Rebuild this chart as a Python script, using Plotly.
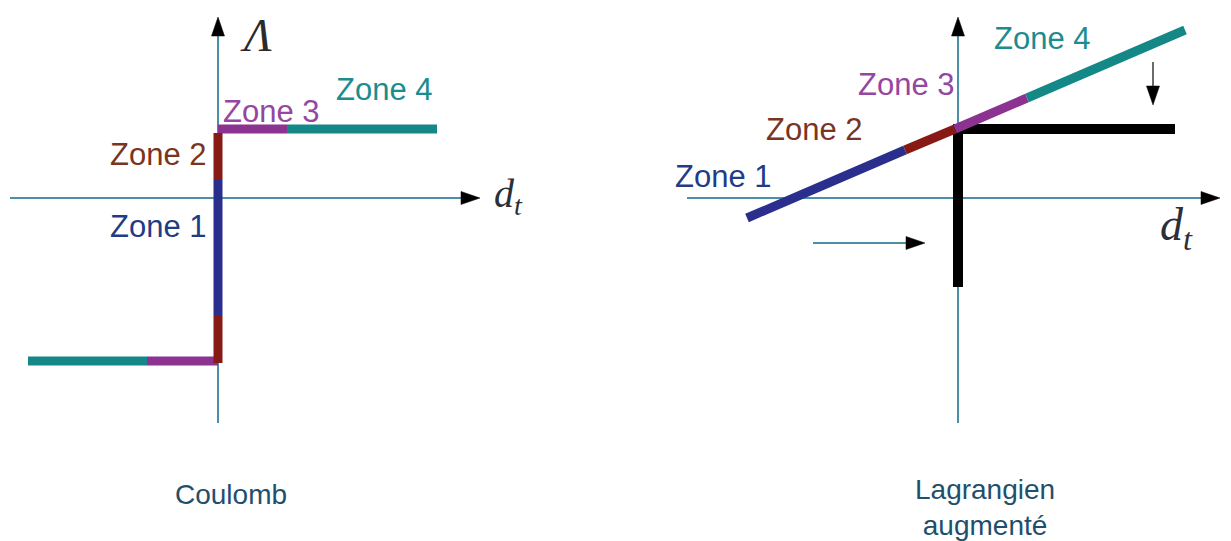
import math
import plotly.graph_objects as go

# ---------------- data (diagram units, origin at each panel's axes crossing) -------------
zone_names = ["Zone 1", "Zone 2", "Zone 3", "Zone 4"]

# Left panel: Coulomb law (multi-valued graph)
coulomb_z1_x = [0.0, 0.0]
coulomb_z1_y = [-11.7, 1.8]
coulomb_z2_x = [0.0, 0.0, None, 0.0, 0.0]
coulomb_z2_y = [-16.5, -11.7, None, 1.8, 6.5]
coulomb_z3_x = [-7.1, 0.0, None, 0.0, 6.9]
coulomb_z3_y = [-16.3, -16.3, None, 6.9, 6.9]
coulomb_z4_x = [-19.0, -7.1, None, 6.9, 21.9]
coulomb_z4_y = [-16.3, -16.3, None, 6.9, 6.9]

# Right panel: augmented Lagrangian (breakpoints of the straight line, one zone per piece)
lagr_x = [-21.1, -5.3, -0.3, 6.9, 22.7]
lagr_y = [-2.0, 4.8, 6.9, 10.0, 16.8]
# Threshold (black) graph
thresh_x = [0.0, 0.0, 21.7]
thresh_y = [-8.9, 6.9, 6.9]

# Axes extents [x0, y0, x_tip, y_tip]
left_axes = [[-20.8, 0.0, 26.2, 0.0], [0.0, -22.5, 0.0, 18.1]]
right_axes = [[-27.1, 0.0, 26.2, 0.0], [0.0, -22.5, 0.0, 18.1]]
# Small motion arrows of the right panel
right_arrows = [[19.5, 13.6, 19.5, 9.3], [-14.5, -4.5, -3.3, -4.5]]

# Label positions
left_zone_pos = [(-6.0, -2.8), (-6.0, 4.4), (5.3, 8.7), (16.6, 10.9)]
right_zone_pos = [(-23.5, 2.2), (-14.4, 6.9), (-5.2, 11.4), (8.4, 16.0)]

# ---------------- styles ----------------
line_colors = ["#2a2e8c", "#871a15", "#8c3291", "#148787"]
text_colors = ["#1f3c86", "#7a3522", "#9446a0", "#1c8c90"]
axis_color = "#4b8fa8"
thick = 9
sans = "Liberation Sans, Arial, sans-serif"
serif = "Liberation Serif, DejaVu Serif, serif"

fig = go.Figure()


def add_line(xs, ys, color, width, xref="x"):
    fig.add_trace(go.Scatter(x=xs, y=ys, mode="lines", xaxis=xref, yaxis="y",
                             line=dict(color=color, width=width),
                             hoverinfo="skip", showlegend=False))


def add_arrow(a, line_color, xref, head_len=1.9, head_w=1.3, width=2):
    x0, y0, x1, y1 = a
    d = math.hypot(x1 - x0, y1 - y0)
    ux, uy = (x1 - x0) / d, (y1 - y0) / d
    bx, by = x1 - ux * head_len, y1 - uy * head_len
    add_line([x0, bx], [y0, by], line_color, width, xref)
    px, py = -uy * head_w / 2, ux * head_w / 2
    fig.add_trace(go.Scatter(x=[x1, bx + px, bx - px, x1], y=[y1, by + py, by - py, y1],
                             mode="lines", fill="toself", fillcolor="#000000",
                             line=dict(color="#000000", width=0.5), xaxis=xref, yaxis="y",
                             hoverinfo="skip", showlegend=False))


# axes
for a in left_axes:
    add_arrow(a, axis_color, "x")
for a in right_axes:
    add_arrow(a, axis_color, "x2")
add_arrow(right_arrows[0], "#3a3a3a", "x2", width=1.5)
add_arrow(right_arrows[1], axis_color, "x2", width=2)

# left panel zones
for xs, ys, c in [(coulomb_z4_x, coulomb_z4_y, line_colors[3]),
                  (coulomb_z3_x, coulomb_z3_y, line_colors[2]),
                  (coulomb_z1_x, coulomb_z1_y, line_colors[0]),
                  (coulomb_z2_x, coulomb_z2_y, line_colors[1])]:
    add_line(xs, ys, c, thick, "x")

# right panel
add_line(thresh_x, thresh_y, "#000000", 10, "x2")
for i in range(4):
    add_line(lagr_x[i:i + 2], lagr_y[i:i + 2], line_colors[i], thick, "x2")

ann = []
for i, name in enumerate(zone_names):
    for (px, py), xr in [(left_zone_pos[i], "x"), (right_zone_pos[i], "x2")]:
        ann.append(dict(x=px, y=py, xref=xr, yref="y", text=name, showarrow=False,
                        xanchor="center", yanchor="middle",
                        font=dict(family=sans, size=31, color=text_colors[i])))

ann.append(dict(x=3.8, y=16.3, xref="x", yref="y", text="<i>Λ</i>", showarrow=False,
                xanchor="center", yanchor="middle", font=dict(family=serif, size=46, color="#2b2b2b")))
ann.append(dict(x=29.0, y=0.2, xref="x", yref="y", text="<i>d</i><sub><i>t</i></sub>",
                showarrow=False, xanchor="center", yanchor="middle",
                font=dict(family=serif, size=40, color="#2b3038")))
ann.append(dict(x=21.8, y=-3.0, xref="x2", yref="y", text="<i>d</i><sub><i>t</i></sub>",
                showarrow=False, xanchor="center", yanchor="middle",
                font=dict(family=serif, size=46, color="#2b3038")))
ann.append(dict(x=1.3, y=-29.6, xref="x", yref="y", text="Coulomb", showarrow=False,
                xanchor="center", yanchor="middle", font=dict(family=sans, size=28, color="#1e506e")))
ann.append(dict(x=2.7, y=-30.9, xref="x2", yref="y", text="Lagrangien<br>augmenté",
                showarrow=False, xanchor="center", yanchor="middle", align="center",
                font=dict(family=sans, size=28, color="#1e506e")))

fig.update_layout(
    width=1231, height=541, margin=dict(l=0, r=0, t=0, b=0),
    paper_bgcolor="white", plot_bgcolor="white", showlegend=False,
    xaxis=dict(range=[-21.8, 101.3], visible=False, fixedrange=True),
    xaxis2=dict(range=[-95.8, 27.3], visible=False, overlaying="x", fixedrange=True),
    yaxis=dict(range=[-34.3, 19.8], visible=False, fixedrange=True),
    annotations=ann,
)

fig.write_html("out.html", config={"displayModeBar": False},
               post_script="document.body.style.margin='0';")
